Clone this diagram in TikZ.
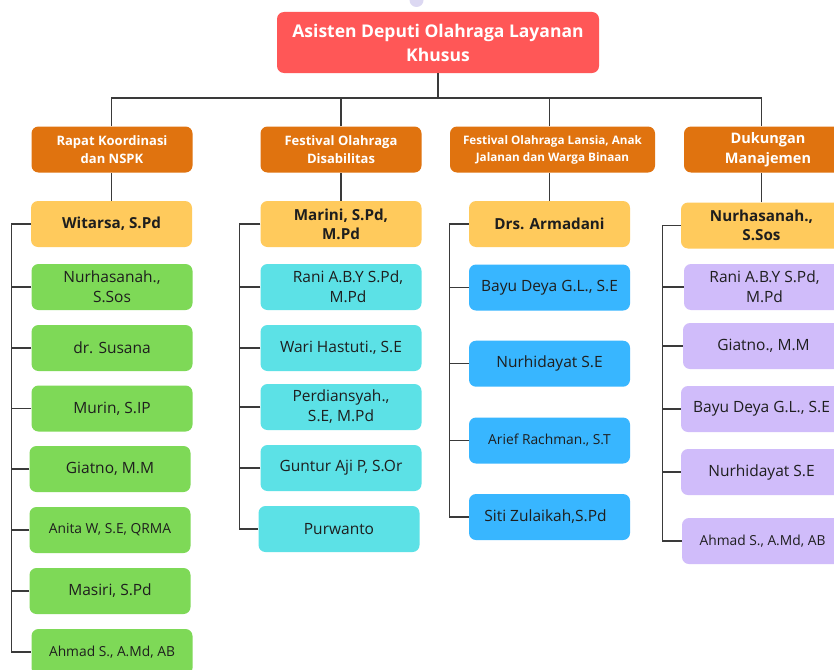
\documentclass[tikz,border=0pt]{standalone}
\usepackage{fontspec}
\setmainfont{Open Sans}
\definecolor{cTitle}{HTML}{FF5757}
\definecolor{cHead}{HTML}{E0730F}
\definecolor{cYel}{HTML}{FFCA5C}
\definecolor{cGreen}{HTML}{7ED957}
\definecolor{cCyan}{HTML}{5CE1E6}
\definecolor{cBlue}{HTML}{38B6FF}
\definecolor{cPurp}{HTML}{D0BCFA}
\definecolor{cLine}{HTML}{3A3A3A}
\definecolor{cTxt}{HTML}{1E1E1E}
\definecolor{cFaint}{HTML}{DCD8F2}
\begin{document}
\begin{tikzpicture}[x=1pt,y=-1pt,
  box/.style={rectangle, rounded corners=7pt, inner sep=0pt, align=center,
    minimum width=161pt, minimum height=46pt, text=cTxt, font=\fontsize{15.5}{20}\selectfont},
  small/.style={font=\fontsize{13.8}{18}\selectfont},
  titlebox/.style={box, fill=cTitle, text=white, minimum width=322pt, minimum height=61pt,
    font=\bfseries\fontsize{17.5}{24}\selectfont},
  headbox/.style={box, fill=cHead, text=white, font=\bfseries\fontsize{13}{18}\selectfont},
  yelbox/.style={box, fill=cYel, font=\bfseries\fontsize{15.2}{19}\selectfont},
  greenbox/.style={box, fill=cGreen},
  cyanbox/.style={box, fill=cCyan},
  bluebox/.style={box, fill=cBlue},
  purpbox/.style={box, fill=cPurp},
  conn/.style={draw=cLine, line width=1.5pt}
]
\useasboundingbox (0,0) rectangle (834,669);
\clip (0,0) rectangle (834,669);
\fill[white] (0,0) rectangle (834,669);
\fill[cFaint] (409.5,0) arc[start angle=180, end angle=360, radius=7pt] -- cycle;

% title
\node[titlebox] (T) at (438,42.5) {Asisten Deputi Olahraga Layanan\\Khusus};

% headers
\node[headbox] (H1) at (112,149.5) {Rapat Koordinasi\\dan NSPK};
\node[headbox] (H2) at (341,149.5) {Festival Olahraga\\Disabilitas};
\node[headbox, minimum width=205pt, font=\bfseries\fontsize{11.7}{17}\selectfont] (H3) at (552.5,149.5) {Festival Olahraga Lansia, Anak\\Jalanan dan Warga Binaan};
\node[headbox, minimum width=168pt, font=\bfseries\fontsize{14.5}{20}\selectfont] (H4) at (768,149.5) {Dukungan\\Manajemen};

% yellow
\node[yelbox] (Y1) at (111.5,224) {Witarsa, S.Pd};
\node[yelbox] (Y2) at (341,224) {Marini, S.Pd,\\M.Pd};
\node[yelbox] (Y3) at (549.5,224) {Drs. Armadani};
\node[yelbox] (Y4) at (761.5,225.5) {Nurhasanah.,\\S.Sos};

% column 1
\node[greenbox] (A1) at (112,287) {Nurhasanah.,\\S.Sos};
\node[greenbox] (A2) at (112,348) {dr. Susana};
\node[greenbox] (A3) at (112,408.5) {Murin, S.IP};
\node[greenbox] (A4) at (110,469) {Giatno, M.M};
\node[greenbox, small] (A5) at (110,530) {Anita W, S.E, QRMA};
\node[greenbox] (A6) at (110,591) {Masiri, S.Pd};
\node[greenbox, small] (A7) at (112,652) {Ahmad S., A.Md, AB};

% column 2
\node[cyanbox] (B1) at (341,287) {\hspace*{14pt}Rani A.B.Y S.Pd,\\\hspace*{14pt}M.Pd};
\node[cyanbox] (B2) at (341,348) {Wari Hastuti., S.E};
\node[cyanbox] (B3) at (341,407) {Perdiansyah.,\\S.E, M.Pd};
\node[cyanbox] (B4) at (341,468) {Guntur Aji P, S.Or};
\node[cyanbox] (B5) at (339,529) {Purwanto};

% column 3
\node[bluebox] (C1) at (549.5,287.5) {Bayu Deya G.L., S.E};
\node[bluebox] (C2) at (549.5,363.7) {Nurhidayat S.E};
\node[bluebox, small] (C3) at (549.5,440.5) {Arief Rachman., S.T};
\node[bluebox] (C4) at (549.5,517) {Siti Zulaikah,S.Pd\hspace*{8pt}};

% column 4
\node[purpbox] (D1) at (764.5,287) {Rani A.B.Y S.Pd,\\M.Pd};
\node[purpbox] (D2) at (763.5,346) {Giatno., M.M};
\node[purpbox] (D3) at (761.5,409) {Bayu Deya G.L., S.E};
\node[purpbox] (D4) at (761.5,472) {Nurhidayat S.E};
\node[purpbox, small] (D5) at (762.5,541) {Ahmad S., A.Md, AB};

% connectors: title to headers
\coordinate (bus) at (438,98);
\draw[conn] (T.south) -- (T.south |- bus);
\draw[conn] (H1.north -| Y1.north) |- (bus) -| (H4.north -| Y4.north);
\draw[conn] (H2.north) -- (H2.north |- bus);
\draw[conn] (H3.north -| Y3.north) -- (Y3.north |- bus);

% headers to yellow
\draw[conn] (Y1.north) -- (Y1.north |- H1.south);
\draw[conn] (Y2.north) -- (Y2.north |- H2.south);
\draw[conn] (Y3.north) -- (Y3.north |- H3.south);
\draw[conn] (Y4.north) -- (Y4.north |- H4.south);

% side brackets
\coordinate (s1) at (11.5,0);
\coordinate (s2) at (239.5,0);
\coordinate (s3) at (449.5,0);
\coordinate (s4) at (662.5,0);
\draw[conn] (Y1.west) -| (s1 |- A7.west) -- (A7.west);
\foreach \n in {A1,A2,A3,A4,A5,A6} \draw[conn] (\n.west) -- (s1 |- \n.west);
\draw[conn] (Y2.west) -| (s2 |- B5.west) -- (B5.west);
\foreach \n in {B1,B2,B3,B4} \draw[conn] (\n.west) -- (s2 |- \n.west);
\draw[conn] (Y3.west) -| (s3 |- C4.west) -- (C4.west);
\foreach \n in {C1,C2,C3} \draw[conn] (\n.west) -- (s3 |- \n.west);
\draw[conn] (Y4.west) -| (s4 |- D5.west) -- (D5.west);
\foreach \n in {D1,D2,D3,D4} \draw[conn] (\n.west) -- (s4 |- \n.west);
\end{tikzpicture}
\end{document}
